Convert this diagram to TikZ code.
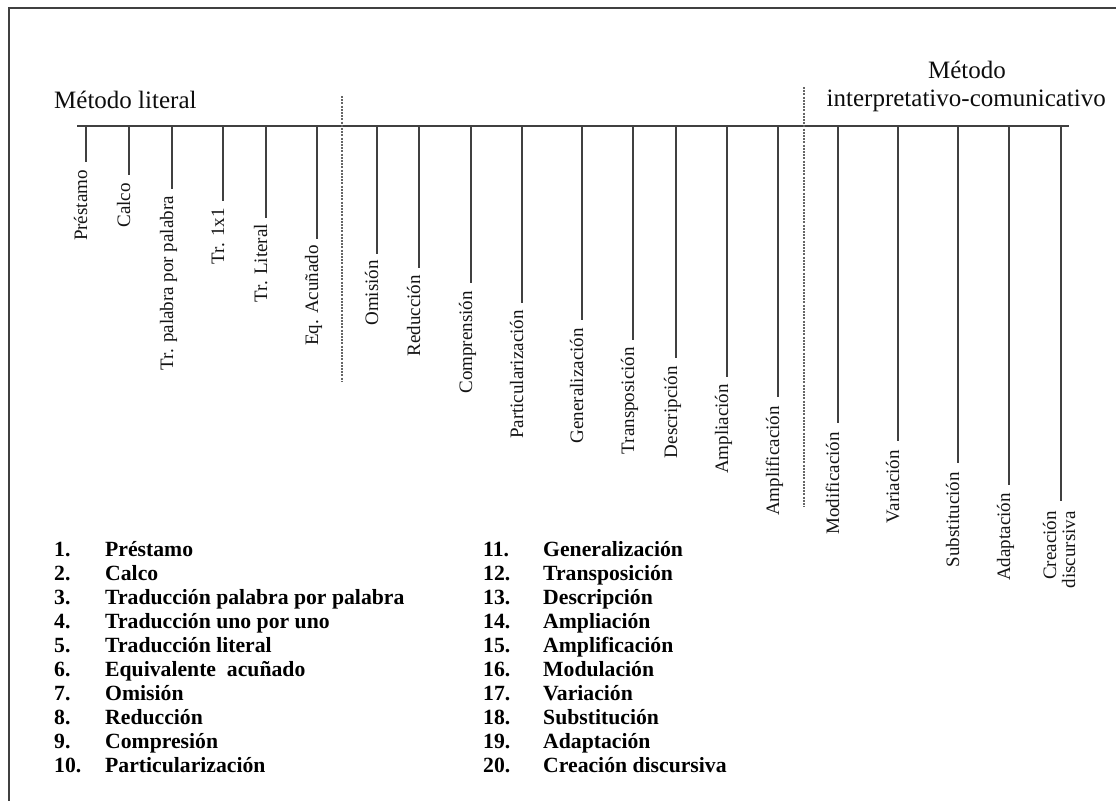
\documentclass[tikz,border=0pt]{standalone}
\usepackage{fontspec}
\setmainfont{Liberation Serif}
\begin{document}
\begin{tikzpicture}[x=1pt,y=-1pt,
  frameline/.style={draw=black!75, line width=2.2pt},
  axisline/.style={draw=black!75, line width=2.2pt},
  tickline/.style={draw=black!75, line width=2.1pt},
  sepline/.style={draw=black!60, line width=1.1pt, dash pattern=on 2pt off 1.2pt},
  head/.style={inner sep=0pt, text=black!95, font=\fontsize{25}{28}\selectfont},
  vlab/.style={inner sep=0pt, rotate=90, anchor=base east, text=black!92, font=\fontsize{19}{20}\selectfont},
  listtxt/.style={inner sep=0pt, anchor=base west, text=black, font=\bfseries\fontsize{21.7}{24}\selectfont}
]
\useasboundingbox (0,0) rectangle (1116,801);
% frame (only top and left edges are visible)
\coordinate (fTL) at (9,8);
\coordinate (fTR) at (1116,8);
\coordinate (fBL) at (9,801);
\draw[frameline] (fTR) -- (fTL) -- (fBL);
% headers
\node[head, anchor=base west] (hlit) at (54,108) {Método literal};
\node[head, anchor=base] (hint1) at (967,78) {Método};
\node[head, anchor=base east] (hint2) at (1106,106) {interpretativo-comunicativo};
% axis
\coordinate (axL) at (77,126);
\coordinate (axR) at (1069,126);
\draw[axisline] (axL) -- (axR);
% separators
\coordinate (s1t) at (342,96);
\coordinate (s1b) at (342,382);
\coordinate (s2t) at (804,87);
\coordinate (s2b) at (804,507);
\draw[sepline] (s1t) -- (s1b);
\draw[sepline] (s2t) -- (s2b);
% ticks and labels
\foreach \i/\x/\yb/\g/\txt in {
  1/86/162/8/Préstamo,
  2/129/175/8/Calco,
  3/172/189/7/Tr. palabra por palabra,
  4/223/201/7/Tr. 1x1,
  5/266/218/6/Tr. Literal,
  6/317/239/6/Eq. Acuñado,
  7/377/254/6/Omisión,
  8/419/268/7/Reducción,
  9/471/283/8/Comprensión,
  10/522/303/7/Particularización,
  11/582/320/8/Generalización,
  12/633/340/7/Transposición,
  13/676/358/8/Descripción,
  14/727/377/7/Ampliación,
  15/778/397/9/Amplificación,
  16/838/423/9/Modificación,
  17/898/441/9/Variación,
  18/958/463/9/Substitución,
  19/1009/485/8/Adaptación}{
  \coordinate (top\i) at (\x,126);
  \coordinate (bot\i) at (\x,\yb);
  \draw[tickline] (top\i) -- (bot\i);
  \node[vlab] (lab\i) at (\x+1,\yb+\g) {\txt};
}
\coordinate (top20) at (1061,126);
\coordinate (bot20) at (1061,501);
\draw[tickline] (top20) -- (bot20);
\node[inner sep=0pt, rotate=90, anchor=east, align=right, text=black!92, font=\fontsize{19}{19}\selectfont] (lab20) at (1059,511) {Creación\\discursiva};
% list
\foreach \n/\t in {1/Préstamo, 2/Calco, 3/Traducción palabra por palabra, 4/Traducción uno por uno, 5/Traducción literal, 6/Equivalente\ \ acuñado, 7/Omisión, 8/Reducción, 9/Compresión, 10/Particularización}{
  \node[listtxt] (n\n) at (54,556+\n*24.1-24.1) {\n.};
  \node[listtxt] (it\n) at (105,556+\n*24.1-24.1) {\t};
}
\foreach \n/\t in {11/Generalización, 12/Transposición, 13/Descripción, 14/Ampliación, 15/Amplificación, 16/Modulación, 17/Variación, 18/Substitución, 19/Adaptación, 20/Creación discursiva}{
  \node[listtxt] (n\n) at (483,556+\n*24.1-265.1) {\n.};
  \node[listtxt] (it\n) at (543,556+\n*24.1-265.1) {\t};
}
\end{tikzpicture}
\end{document}
